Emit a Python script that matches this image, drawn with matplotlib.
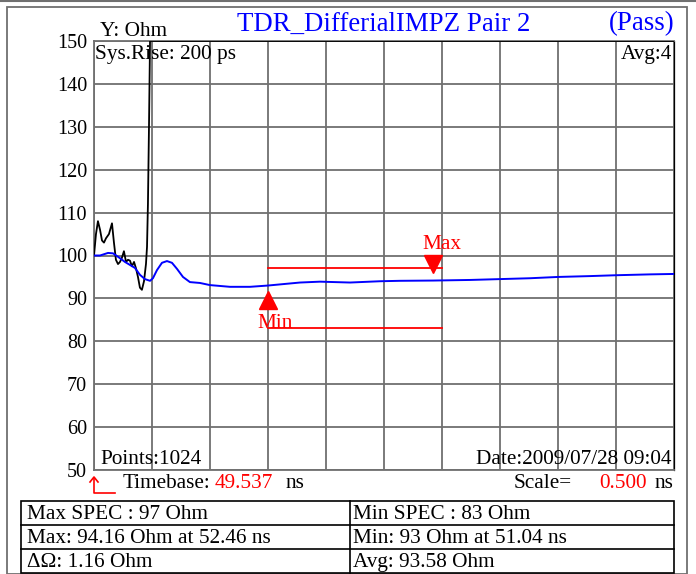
import numpy as np
import matplotlib
matplotlib.use("Agg")
import matplotlib.pyplot as plt
from matplotlib.transforms import offset_copy
from matplotlib.patches import Rectangle
from matplotlib.lines import Line2D

plt.rcParams['font.family'] = ['Liberation Serif', 'DejaVu Serif']

# ---- data ----
timebase = 49.537
scale_ns = 0.5
y_ticks = [50, 60, 70, 80, 90, 100, 110, 120, 130, 140, 150]

blue_t = [49.537, 49.589, 49.658, 49.701, 49.744, 49.804, 49.847, 49.890, 49.933, 49.976,
          50.020, 50.045, 50.080, 50.123, 50.166, 50.209, 50.252, 50.304, 50.364, 50.450,
          50.537, 50.709, 50.882, 51.037, 51.313, 51.485, 51.744, 52.003, 52.175, 52.460,
          52.779, 53.037, 53.296, 53.537, 53.813, 54.037, 54.330, 54.537]
blue_v = [100.0, 100.0, 100.6, 100.5, 99.7, 98.5, 97.8, 97.1, 95.5, 94.5,
          94.1, 94.7, 96.6, 98.3, 98.7, 98.3, 96.9, 95.0, 93.8, 93.6,
          93.1, 92.7, 92.7, 93.0, 93.7, 93.9, 93.7, 94.0, 94.1, 94.16,
          94.3, 94.5, 94.7, 95.0, 95.2, 95.4, 95.6, 95.7]

black_t = [49.537, 49.554, 49.571, 49.589, 49.606, 49.623, 49.640, 49.666, 49.692, 49.709,
           49.726, 49.744, 49.761, 49.778, 49.795, 49.813, 49.830, 49.847, 49.864, 49.882,
           49.899, 49.916, 49.933, 49.950, 49.968, 49.985, 49.994, 50.002, 50.011, 50.020,
           54.537]
black_v = [100.0, 105.0, 108.0, 106.0, 103.5, 103.0, 104.0, 105.0, 107.5, 103.0,
           99.0, 98.0, 98.5, 99.5, 101.0, 98.5, 99.0, 98.8, 97.5, 98.5,
           97.0, 95.0, 92.5, 92.0, 94.0, 98.0, 102.0, 112.0, 130.0, 150.0,
           150.0]

max_spec = 97
min_spec = 83
max_val, max_t = 94.16, 52.46
min_val, min_t = 93, 51.04
spec_t_end = 52.537
avg_val = 93.58

W, H = 696, 574
fig = plt.figure(figsize=(W / 100, H / 100), dpi=100)

def fx(x):
    return x / W

def fy(y):
    return 1 - y / H

ax = fig.add_axes([fx(94), fy(470), (674 - 94) / W, (470 - 41) / H])
ax.set_xlim(timebase, timebase + 10 * scale_ns)
ax.set_ylim(50, 150)
ax.set_xticks([timebase + i * scale_ns for i in range(11)])
ax.set_yticks(y_ticks)
ax.set_xticklabels([])
ax.set_yticklabels([str(v) for v in y_ticks], fontsize=14.5)
ax.tick_params(length=0, pad=5)
ax.grid(True, color='#707070', linewidth=1.3)
for s in ax.spines.values():
    s.set_color('#707070')
    s.set_linewidth(1.3)
ax.spines['right'].set_color('black')
ax.spines['right'].set_linewidth(0.9)

ax.plot(black_t, black_v, color='black', linewidth=1.3, zorder=3)
ax.plot(blue_t, blue_v, color='#0000ff', linewidth=1.4, zorder=4)

# spec lines
ax.plot([min_t, spec_t_end], [max_spec, max_spec], color='red', linewidth=1.3, zorder=5)
ax.plot([min_t, spec_t_end], [min_spec, min_spec], color='red', linewidth=1.3, zorder=5)

# markers
tr_min = offset_copy(ax.transData, fig=fig, x=0, y=-14.5, units='dots')
ax.plot([min_t], [min_val], marker='^', color='red', markersize=13.5, transform=tr_min, zorder=6, clip_on=False)
tr_max = offset_copy(ax.transData, fig=fig, x=0, y=16.5, units='dots')
ax.plot([max_t], [max_val], marker='v', color='red', markersize=13.5, transform=tr_max, zorder=6, clip_on=False)
fig.text(fx(275), fy(324), 'Min', color='red', fontsize=15.3, ha='center', va='center')
fig.text(fx(442), fy(245), 'Max', color='red', fontsize=15.3, ha='center', va='center')

# overlay texts
fs = 15.3
fig.text(fx(100), fy(32), 'Y: Ohm', fontsize=fs, ha='left', va='center')
fig.text(fx(384), fy(24), 'TDR_DifferialIMPZ Pair 2', fontsize=19.4, color='#0000ff', ha='center', va='center')
fig.text(fx(674), fy(24), '(Pass)', fontsize=19.4, color='#0000ff', ha='right', va='center')
fig.text(fx(95), fy(55), 'Sys.Rise: 200 ps', fontsize=fs, ha='left', va='center')
fig.text(fx(672), fy(55), 'Avg:4', fontsize=fs, ha='right', va='center')
fig.text(fx(100), fy(460), 'Points:1024', fontsize=fs, ha='left', va='center')
fig.text(fx(672), fy(460), 'Date:2009/07/28 09:04', fontsize=fs, ha='right', va='center')
fig.text(fx(123), fy(484), 'Timebase:', fontsize=fs, ha='left', va='center')
fig.text(fx(215), fy(484), f'{timebase:.3f}', fontsize=fs, color='red', ha='left', va='center')
fig.text(fx(286), fy(484), 'ns', fontsize=fs, ha='left', va='center')
fig.text(fx(514), fy(484), 'Scale=', fontsize=fs, ha='left', va='center')
fig.text(fx(647), fy(484), f'{scale_ns:.3f}', fontsize=fs, color='red', ha='right', va='center')
fig.text(fx(673), fy(484), 'ns', fontsize=fs, ha='right', va='center')

# small red arrow
fig.add_artist(Line2D([fx(94), fx(94), fx(115)], [fy(478), fy(493), fy(493)], color='red', linewidth=1.2))
fig.add_artist(Line2D([fx(90), fx(94), fx(98)], [fy(482), fy(477), fy(482)], color='red', linewidth=1.2))

# outer frame
fig.add_artist(Rectangle((fx(7), fy(574)), fx(687 - 7), (574 - 7) / H, fill=False,
                         edgecolor='#707070', linewidth=1.3, transform=fig.transFigure))
fig.add_artist(Line2D([0, 1], [fy(1), fy(1)], color='#707070', linewidth=1.5))

# table
tl, tm, tr = 21, 350, 674
rows = [501, 525, 549, 573]
fig.add_artist(Rectangle((fx(tl), fy(rows[-1])), fx(tr - tl), (rows[-1] - rows[0]) / H,
                         fill=False, edgecolor='black', linewidth=1.2, transform=fig.transFigure))
for r in rows[1:-1]:
    fig.add_artist(Line2D([fx(tl), fx(tr)], [fy(r), fy(r)], color='black', linewidth=1.2))
fig.add_artist(Line2D([fx(tm), fx(tm)], [fy(rows[0]), fy(rows[-1])], color='black', linewidth=1.2))

left_cells = [f'Max SPEC : {max_spec} Ohm', f'Max: {max_val} Ohm at {max_t} ns',
              f'\u0394\u03a9: {max_val - min_val:.2f} Ohm']
right_cells = [f'Min SPEC : {min_spec} Ohm', f'Min: {min_val} Ohm at {min_t} ns',
               f'Avg: {avg_val} Ohm']
for i in range(3):
    yc = (rows[i] + rows[i + 1]) / 2 + 1.5
    fig.text(fx(27), fy(yc), left_cells[i], fontsize=fs, ha='left', va='center')
    fig.text(fx(353), fy(yc), right_cells[i], fontsize=fs, ha='left', va='center')

fig.savefig('out.png', dpi=100)
